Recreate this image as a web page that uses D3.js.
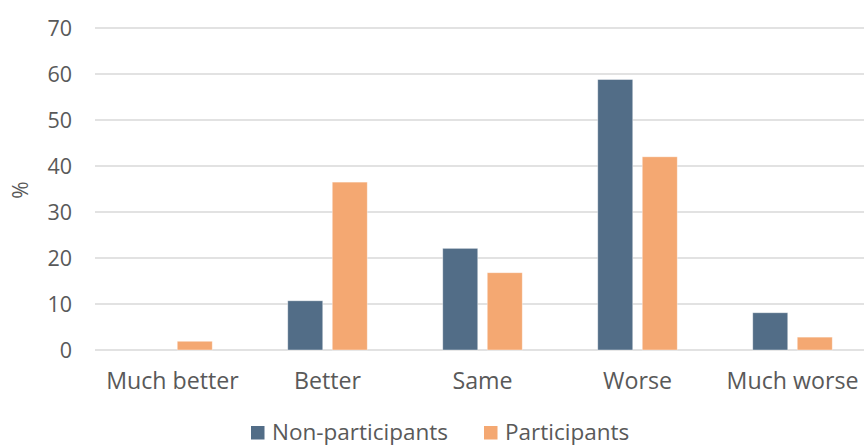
<!DOCTYPE html>
<html>
<head>
<meta charset="utf-8">
<script src="https://cdn.jsdelivr.net/npm/d3@7"></script>
<style>
  html, body { margin: 0; padding: 0; background: #fff; }
  svg text { font-family: "Open Sans", Lato, sans-serif; fill: #595959; }
</style>
</head>
<body>
<svg id="chart" width="864" height="445"></svg>
<script>
// Survey responses (%), grouped by outcome
const categories = ["Much better", "Better", "Same", "Worse", "Much worse"];
const seriesNames = ["Non-participants", "Participants"];
const nonParticipants = [0, 10.7, 22.1, 58.8, 8.1];
const participants = [1.9, 36.5, 16.8, 42.0, 2.8];
const yTicks = [0, 10, 20, 30, 40, 50, 60, 70];
const colors = ["#526D87", "#F4A872"];

const seriesValues = [nonParticipants, participants];

const svg = d3.select("#chart");
const margin = { left: 95, top: 28 };
const width = 775;
const height = 322;

const g = svg.append("g").attr("transform", `translate(${margin.left},${margin.top})`);

const x0 = d3.scaleBand().domain(categories).range([0, width]).paddingInner(0.487).paddingOuter(0.2435);
const x1 = d3.scaleBand().domain(seriesNames).range([0, x0.bandwidth()]).paddingInner(0.2135);
const y = d3.scaleLinear().domain([0, 70]).range([height, 0]);

// Gridlines
g.append("g")
  .selectAll("line")
  .data(yTicks)
  .join("line")
  .attr("x1", 0)
  .attr("x2", width)
  .attr("y1", d => y(d))
  .attr("y2", d => y(d))
  .attr("stroke", "#d9d9d9")
  .attr("stroke-width", 1.5);

// Y axis labels
const yAxis = g.append("g")
  .attr("transform", "translate(-23,0)")
  .call(d3.axisLeft(y).tickValues(yTicks).tickSize(0).tickPadding(0));
yAxis.select(".domain").remove();
yAxis.selectAll("text").style("font-size", "21.5px").attr("fill", "#595959").attr("dy", "0.36em");

// X axis labels
const xAxis = g.append("g")
  .attr("transform", `translate(0,${height})`)
  .call(d3.axisBottom(x0).tickSize(0).tickPadding(0));
xAxis.select(".domain").remove();
xAxis.selectAll("text").style("font-size", "23.2px").attr("fill", "#595959").attr("dy", null).attr("y", 39);

// Bars
const groups = g.append("g")
  .selectAll("g")
  .data(categories)
  .join("g")
  .attr("transform", d => `translate(${x0(d)},0)`);

groups.selectAll("rect")
  .data((d, i) => seriesNames.map((s, j) => ({ series: s, value: seriesValues[j][i], j })))
  .join("rect")
  .attr("x", d => x1(d.series))
  .attr("width", x1.bandwidth())
  .attr("y", d => y(d.value))
  .attr("height", d => y(0) - y(d.value))
  .attr("fill", d => colors[d.j])
  .attr("stroke", "#ffffff")
  .attr("stroke-opacity", 0.5)
  .attr("stroke-width", 0.8);

// Y axis title
svg.append("text")
  .attr("transform", "translate(28,190) rotate(-90)")
  .attr("text-anchor", "middle")
  .style("font-size", "21px")
  .text("%");

// Legend
const legend = svg.append("g").attr("transform", "translate(0,439.5)");
const legendX = [251, 484];
seriesNames.forEach((name, i) => {
  legend.append("rect")
    .attr("x", legendX[i])
    .attr("y", -13.5)
    .attr("width", 13.5)
    .attr("height", 13.5)
    .attr("fill", colors[i]);
  legend.append("text")
    .attr("x", legendX[i] + 21)
    .attr("y", 0)
    .style("font-size", "22.5px")
    .text(name);
});
</script>
</body>
</html>
